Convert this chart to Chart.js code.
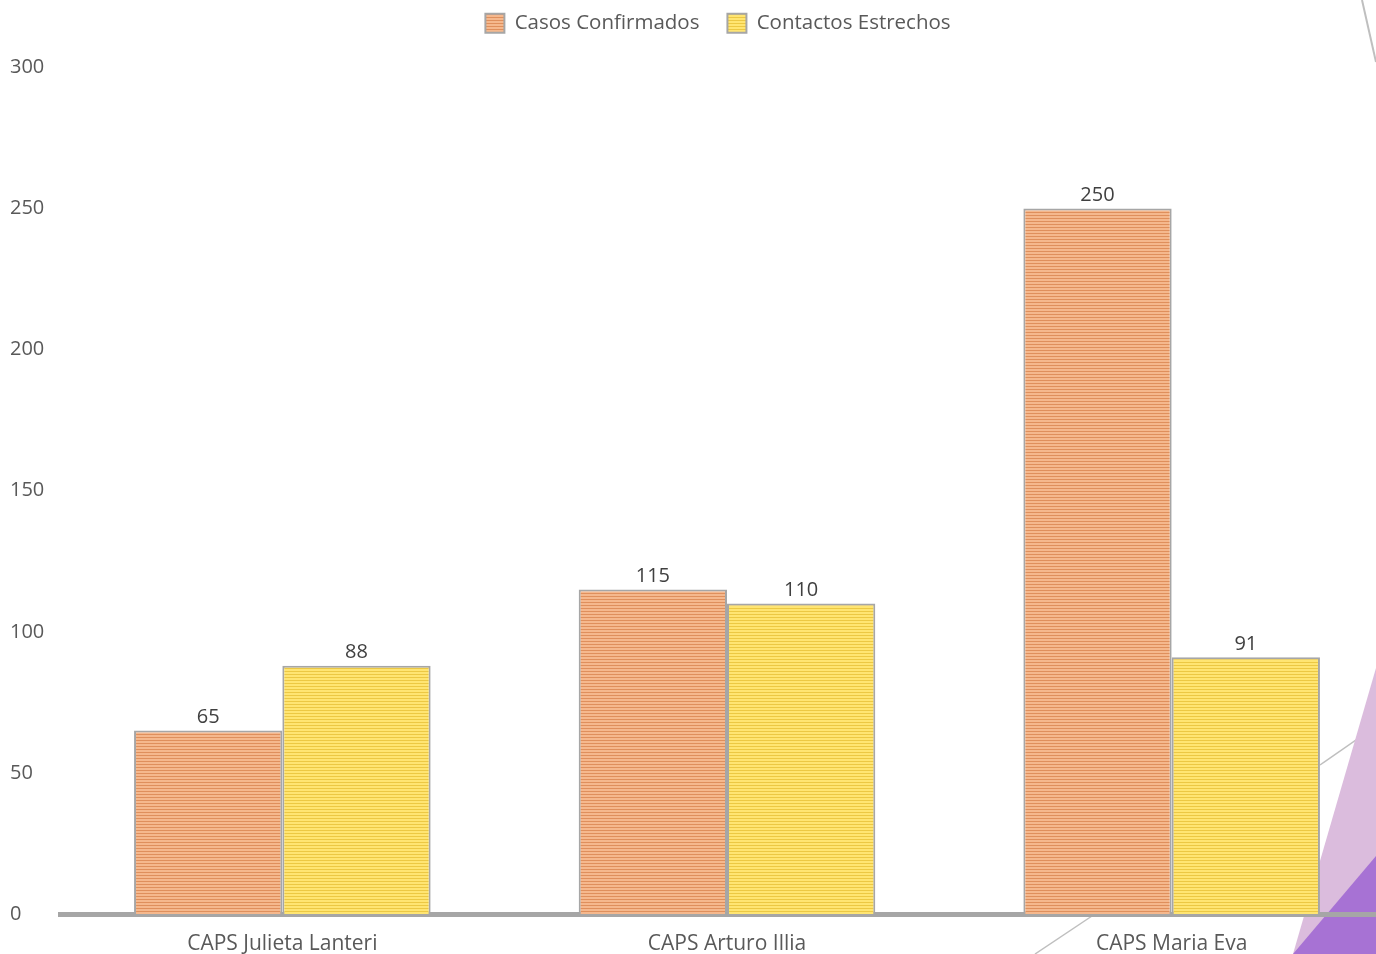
<!DOCTYPE html>
<html>
<head>
<meta charset="utf-8">
<script src="https://cdn.jsdelivr.net/npm/chart.js@4"></script>
<style>
  html, body { margin: 0; padding: 0; background: #fff; overflow: hidden; }
  #wrap { position: relative; width: 1394px; height: 954px; }
  #deco { position: absolute; left: 0; top: 0; }
  #chart { position: absolute; left: 0; top: 0; }
</style>
</head>
<body>
<div id="wrap">
  <svg id="deco" width="1376" height="954">
    <line x1="1362" y1="0" x2="1376" y2="62" stroke="#BFBFBF" stroke-width="2"/>
    <line x1="1035" y1="954" x2="1098" y2="912" stroke="#BFBFBF" stroke-width="1.5"/>
    <line x1="1320" y1="765" x2="1376" y2="726" stroke="#BFBFBF" stroke-width="1.5"/>
    <polygon points="1376,668 1376,954 1293,954" fill="#DBBCDD"/>
    <polygon points="1376,856 1376,954 1293,954" fill="#A772D4"/>
  </svg>
  <canvas id="chart" width="1394" height="954"></canvas>
</div>
<script>
// categories and values
const categories = ["CAPS Julieta Lanteri", "CAPS Arturo Illia", "CAPS Maria Eva"];
const casosConfirmados = [65, 115, 250];
const contactosEstrechos = [88, 110, 91];
const yTicks = [0, 50, 100, 150, 200, 250, 300];

// striped fill like the original (horizontal lines)
function stripes(light, dark) {
  const c = document.createElement("canvas");
  c.width = 4;
  c.height = 3;
  const g = c.getContext("2d");
  g.fillStyle = light;
  g.fillRect(0, 0, 4, 3);
  g.fillStyle = dark;
  g.fillRect(0, 2, 4, 1);
  return g.createPattern(c, "repeat");
}

const orangeFill = stripes("#F5B88D", "#DF8F5C");
const yellowFill = stripes("#FFE572", "#ECC843");

// value labels above each bar
const valueLabels = {
  id: "valueLabels",
  afterDatasetsDraw(chart) {
    const ctx = chart.ctx;
    ctx.save();
    ctx.font = "20px 'Open Sans'";
    ctx.fillStyle = "#404040";
    ctx.textAlign = "center";
    ctx.textBaseline = "bottom";
    chart.data.datasets.forEach((ds, i) => {
      chart.getDatasetMeta(i).data.forEach((bar, j) => {
        ctx.fillText(ds.data[j], bar.x, bar.y - 3);
      });
    });
    ctx.restore();
  },
};

// extra room under the legend so the plot starts lower,
// and nudge the legend a bit to the right like the original
const legendGap = {
  id: "legendGap",
  beforeLayout(chart) {
    const lg = chart.legend;
    if (lg && !lg._gapSet) {
      const fit = lg.fit;
      lg.fit = function () {
        fit.call(this);
        this.height += 24;
      };
      const draw = lg.draw;
      lg.draw = function () {
        this.ctx.save();
        this.ctx.translate(16, 0);
        draw.call(this);
        this.ctx.restore();
      };
      lg._gapSet = true;
    }
  },
};

const ctx = document.getElementById("chart").getContext("2d");
new Chart(ctx, {
  type: "bar",
  data: {
    labels: categories,
    datasets: [
      {
        label: "Casos Confirmados",
        data: casosConfirmados,
        backgroundColor: orangeFill,
        borderColor: "#A6A6A6",
        borderWidth: 2,
        borderSkipped: "bottom",
      },
      {
        label: "Contactos Estrechos",
        data: contactosEstrechos,
        backgroundColor: yellowFill,
        borderColor: "#A6A6A6",
        borderWidth: 2,
        borderSkipped: "bottom",
      },
    ],
  },
  options: {
    responsive: false,
    animation: false,
    events: [],
    layout: { padding: { top: -15, left: 10, right: 0, bottom: 0 } },
    datasets: {
      bar: { categoryPercentage: 0.667, barPercentage: 1.0 },
    },
    plugins: {
      legend: {
        position: "top",
        labels: {
          boxWidth: 19,
          boxHeight: 19,
          padding: 28,
          color: "#595959",
          font: { family: "'Open Sans'", size: 20.5 },
        },
      },
      tooltip: { enabled: false },
    },
    scales: {
      x: {
        grid: { display: false, drawTicks: false },
        border: { display: true, color: "#A6A6A6", width: 5 },
        ticks: {
          color: "#595959",
          padding: 17,
          font: { family: "'Open Sans'", size: 21 },
        },
        afterFit(scale) {
          scale.height = 40;
        },
      },
      y: {
        min: 0,
        max: 300,
        afterBuildTicks(scale) {
          scale.ticks = yTicks.map((v) => ({ value: v }));
        },
        grid: { display: false, drawTicks: false },
        border: { display: false },
        ticks: {
          color: "#595959",
          crossAlign: "far",
          padding: 0,
          font: { family: "'Open Sans'", size: 20 },
        },
        afterFit(scale) {
          scale.width = 50;
        },
      },
    },
  },
  plugins: [valueLabels, legendGap],
});
</script>
</body>
</html>
